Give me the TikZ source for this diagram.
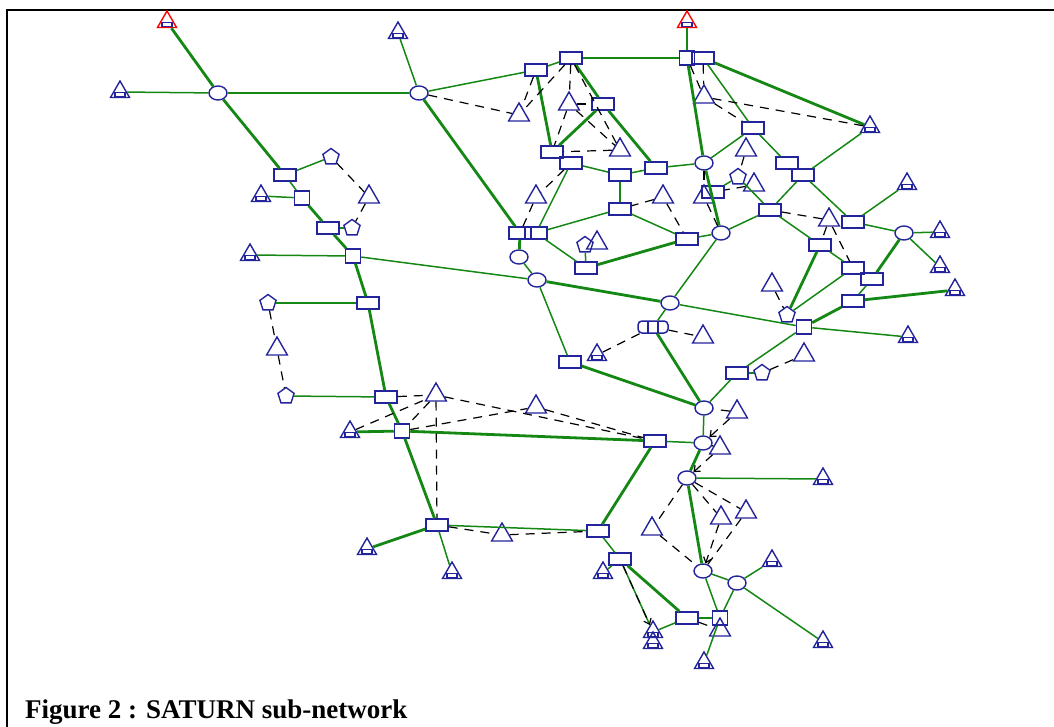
\documentclass[tikz,border=0pt]{standalone}
\usepackage{fontspec}
\setmainfont{Liberation Serif}
\usetikzlibrary{shapes.geometric,arrows.meta}

\definecolor{netblue}{RGB}{35,35,155}
\definecolor{netgreen}{RGB}{20,135,20}

\tikzset{
	lnk/.style={draw=netblue, line width=1.5pt, rectangle, minimum width=22pt, minimum height=12pt, inner sep=0pt},
	sq/.style={lnk, minimum width=15pt, minimum height=14pt},
	jn/.style={draw=netblue, line width=1.4pt, ellipse, minimum width=18pt, minimum height=14pt, inner sep=0pt},
	zn/.style={draw=netblue, line width=1.4pt, regular polygon, regular polygon sides=3, minimum size=24pt, inner sep=0pt},
	pn/.style={draw=netblue, line width=1.4pt, regular polygon, regular polygon sides=5, minimum size=17pt, inner sep=0pt},
	cz/.style={zn, minimum size=22pt, path picture={\draw[netblue, line width=1.3pt] ([xshift=-5pt,yshift=1pt]path picture bounding box.south) rectangle ([xshift=5pt,yshift=5pt]path picture bounding box.south);}},
	sr/.style={cz, draw=red},
	mc/.style={lnk, rounded corners=4pt, minimum width=30pt, path picture={\draw[netblue, line width=1.2pt] ([xshift=-5pt]path picture bounding box.north) -- ([xshift=-5pt]path picture bounding box.south) ([xshift=5pt]path picture bounding box.north) -- ([xshift=5pt]path picture bounding box.south);}},
	rd/.style={draw=netgreen, line width=1.5pt},
	mrd/.style={draw=netgreen, line width=2.8pt},
	dl/.style={draw=black, line width=1.2pt, dash pattern=on 9pt off 7pt},
	da/.style={dl, -{Straight Barb[length=5pt,width=8pt]}},
}

\begin{document}
\begin{tikzpicture}[x=1pt, y=-1pt]
	\useasboundingbox (0,0) rectangle (1054,727);
	\draw[line width=2pt] (7,727) -- (7,10) -- (1054,10);

	\foreach \n/\x/\y in {j1/218/93, j2/419/93, j3/519/257, j4/537/280, j5/704/163, j6/721/233, j7/670/303, j8/904/233, j9/704/408, j10/703/443, j11/687/478, j12/703/571, j13/737/583}
		\node[jn] (\n) at (\x,\y) {};

	\foreach \n/\x/\y in {b1/285/175, b3/328/228, b5/368/303, b6/386/397, b8/437/525, b9/598/531, b10/620/559, b11/687/618, b13/655/441, b14/570/362, b15/737/373, b17/853/301, b18/872/279, b19/853/268, b20/820/245, b21/853/222, b22/770/210, b23/803/175, b24/787/163, b25/753/128, b26/713/192, b27/687/239, b28/620/209, b29/586/268, b30/520/233, b31/536/233, b32/571/163, b33/552/152, b34/620/175, b35/656/168, b36/603/104, b37/571/58, b38/536/70, b40/703/58}
		\node[lnk] (\n) at (\x,\y) {};

	\foreach \n/\x/\y in {b2/302/198, b4/353/256, b7/402/431, b12/720/618, b16/804/327, b39/687/58}
		\node[sq] (\n) at (\x,\y) {};

	\foreach \n/\x/\y in {z1/369/197, z2/277/349, z3/436/395, z4/536/407, z5/502/535, z6/519/115, z7/569/104, z8/620/150, z9/704/97, z10/746/150, z11/754/185, z12/536/197, z13/663/197, z14/704/197, z15/829/220, z16/772/285, z17/804/355, z18/703/337, z19/737/412, z20/720/448, z21/652/529, z22/721/518, z23/746/512, z24/720/630, z25/597/243}
		\node[zn] (\n) at (\x,\y) {};

	\foreach \n/\x/\y in {p1/331/157, p2/352/228, p3/268/303, p4/286/396, p5/738/177, p6/787/315, p7/762/373, p8/585/245}
		\node[pn] (\n) at (\x,\y) {};

	\foreach \n/\x/\y in {c1/120/92, c2/398/33, c3/261/196, c4/250/255, c5/350/432, c6/367/549, c7/452/573, c8/603/573, c9/653/632, c10/653/643, c11/823/479, c12/772/561, c13/823/642, c14/870/127, c15/907/184, c16/940/232, c17/940/267, c18/955/290, c19/908/337, c20/597/355, c21/704/663}
		\node[cz] (\n) at (\x,\y) {};

	\node[sr] (s1) at (167,22) {};
	\node[sr] (s2) at (687,22) {};
	\node[mc] (m1) at (653,327) {};

	\foreach \a/\b in {s1/j1, j1/b1, b2/b3, b3/b4, b4/b5, b5/b6, b6/b7, b7/b8, c5/b7, b7/b13, b8/c6, b9/b13, b10/b11, j11/j12, j10/j11, b17/c18, b16/b17, b18/j8, b20/p6, j2/b30, b30/j3, j4/j7, b14/j9, m1/j9, b29/b27, b36/b35, b36/b33, b37/b36, b38/b33, b37/b39, b39/s2, b39/j5, j5/j6, b40/c14}
		\draw[mrd] (\a) -- (\b);

	\foreach \a/\b in {c1/j1, b1/b2, j1/j2, j2/c2, b1/p1, c3/b2, b3/p2, c4/b4, b4/j4, p3/b5, p4/b6, b8/b9, b8/c7, b9/b10, b10/c8, b10/c9, b11/c9, b11/b12, b12/c21, j12/b12, j11/c11, b13/j10, j9/j10, j9/b15, b15/p7, b15/b16, b16/c19, b17/b18, j8/c16, j8/c17, b21/j8, b21/c15, b23/b21, b23/c14, b23/b22, b22/p5, p5/b26, b22/j6, b22/b20, b20/b19, b19/p6, j12/j13, j13/c12, j13/c13, j13/b12, j2/b38, j3/j4, j4/b14, j7/b16, j7/m1, j7/j6, b27/j6, b31/b29, b29/p8, b28/b31, b28/b27, b34/b28, b32/b34, b34/b35, b35/j5, b38/b37, b40/b25, b25/j5, b25/b24, b32/b31}
		\draw[rd] (\a) -- (\b);

	\foreach \a/\b in {p1/z1, z1/p2, p3/z2, z2/p4, b6/z3, z3/b7, c5/z3, z3/b8, b7/z4, z3/b13, z4/b13, b8/z5, z5/b9, j2/z6, b38/z6, b37/z6, b37/z7, z7/b36, z7/b33, z8/b33, b37/z8, z7/z8, b32/z12, z12/b30, z13/b28, z13/b27, b40/z9, b39/z9, z9/c14, z9/b25, j5/z14, z14/j6, z10/p5, b22/z15, z15/b20, z15/b19, z16/p6, p7/z17, m1/c20, m1/z18, z19/j9, z20/j10, j11/z21, z21/j12, j11/z22, j11/z23, z23/j12, b11/z24, z11/b26}
		\draw[dl] (\a) -- (\b);

	\foreach \a/\b in {z19/j10, z20/j11, z22/j12, b10/c9}
		\draw[da] (\a) -- (\b);

	\node[anchor=base west, font=\fontsize{27}{29}\selectfont\bfseries, inner sep=0pt] (cap) at (25,718) {Figure 2 : SATURN sub-network};
\end{tikzpicture}
\end{document}
